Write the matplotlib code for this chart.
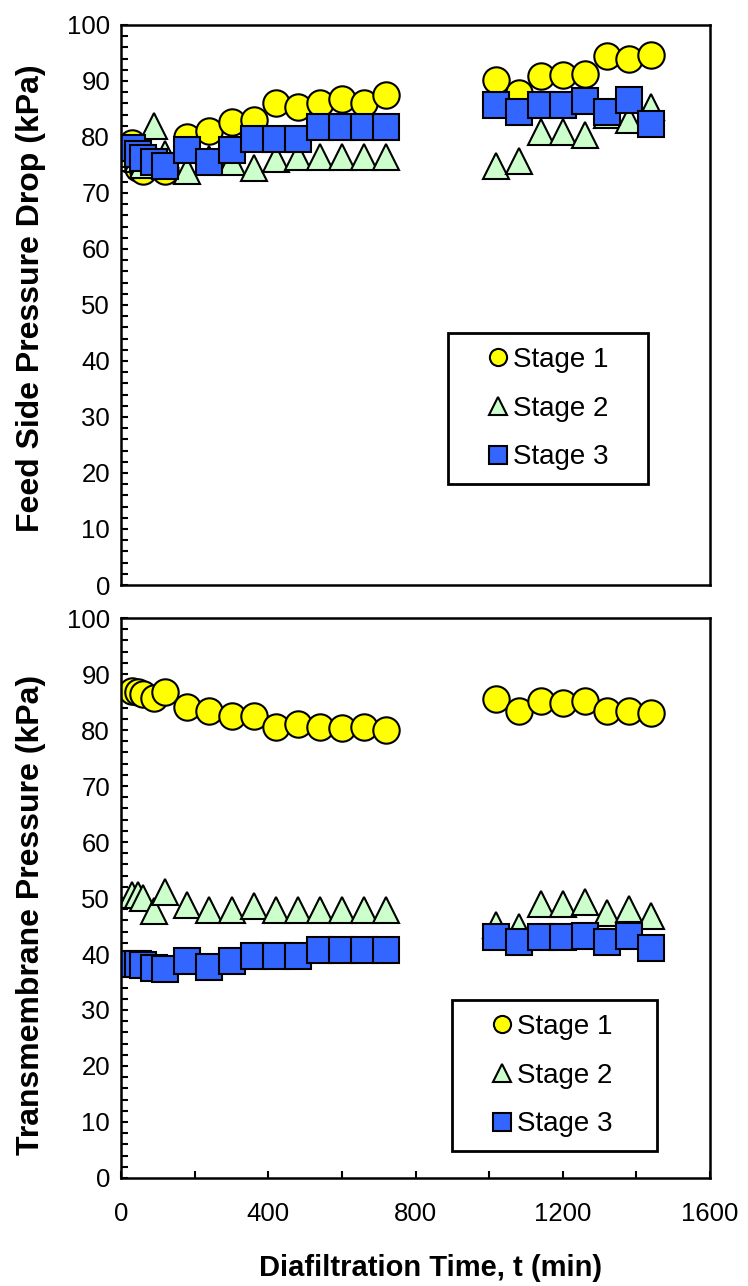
import matplotlib
matplotlib.use('Agg')
import matplotlib.pyplot as plt
from matplotlib.ticker import MultipleLocator

plt.rcParams['font.family'] = ['Liberation Sans', 'DejaVu Sans']

# diafiltration time (min) - two runs with a break between them
t = [30, 45, 60, 90, 120, 180, 240, 300, 360, 420, 480, 540, 600, 660, 720,
     1020, 1080, 1140, 1200, 1260, 1320, 1380, 1440]

# feed side pressure drop (kPa)
dp_stage1 = [79, 74.5, 74, 75, 74, 80, 81, 82.7, 83, 86, 85.3, 86.1, 86.7, 86, 87.5,
             90.2, 87.9, 90.8, 91.1, 91.2, 94.5, 94, 94.6]
dp_stage2 = [77, 76, 75, 82, 77, 74, 76, 75.6, 74.5, 76, 76.5, 76.5, 76.5, 76.5, 76.5,
             74.9, 75.7, 80.9, 80.9, 80.4, 84, 83, 85.4]
dp_stage3 = [78, 77, 76.2, 75.5, 74.8, 77.7, 75.6, 77.7, 79.7, 79.7, 79.7, 81.8, 81.8, 81.8, 81.8,
             85.7, 84.5, 85.7, 85.7, 86.5, 84.5, 86.6, 82.4]

# transmembrane pressure (kPa)
tmp_stage1 = [87, 86.8, 86.5, 85.7, 86.8, 84.2, 83.4, 82.5, 82.5, 80.6, 81.1, 80.6, 80.3, 80.6, 80.0,
              85.5, 83.4, 85.2, 84.9, 85.1, 83.4, 83.4, 83.1]
tmp_stage2 = [50.5, 50.5, 50, 47.7, 51.1, 48.7, 47.8, 47.8, 48.5, 47.8, 47.8, 47.8, 47.8, 47.8, 47.8,
              45.2, 44.9, 48.9, 48.9, 49.3, 47.3, 48.0, 46.8]
tmp_stage3 = [38.3, 38.2, 38, 37.5, 37.4, 38.8, 37.6, 38.7, 39.6, 39.6, 39.6, 40.8, 40.8, 40.8, 40.8,
              43.0, 42.2, 43.0, 43.0, 43.2, 42.2, 43.2, 41.0]

labels = ['Stage 1', 'Stage 2', 'Stage 3']
markers = ['o', '^', 's']
colors = ['#FFFF00', '#CCFFCC', '#3366FF']

fig = plt.figure(figsize=(7.48, 12.86), dpi=100)
ax1 = fig.add_axes([0.162, 0.5451, 0.787, 0.4355])
ax2 = fig.add_axes([0.162, 0.0840, 0.787, 0.4354])


def draw(ax, series, ylabel, label_y, leg_box):
    for y, lab, m, c in zip(series, labels, markers, colors):
        ax.plot(t, y, linestyle='none', marker=m, ms=19, mfc=c, mec='black',
                mew=1.5, label=lab)
    ax.set_xlim(0, 1600)
    ax.set_ylim(0, 100)
    ax.yaxis.set_major_locator(MultipleLocator(10))
    ax.yaxis.set_minor_locator(MultipleLocator(2))
    ax.xaxis.set_major_locator(MultipleLocator(400))
    ax.xaxis.set_minor_locator(MultipleLocator(200))
    ax.tick_params(which='both', direction='in', length=5, width=1.5,
                   labelsize=18.5, top=False, right=False)
    ax.tick_params(axis='y', pad=8)
    ax.tick_params(axis='x', pad=17)
    for s in ax.spines.values():
        s.set_linewidth(1.8)
    ax.set_ylabel(ylabel, fontsize=23, fontweight='bold')
    ax.yaxis.set_label_coords(-0.128, label_y)
    leg = ax.legend(loc='upper left', bbox_to_anchor=leg_box, mode='expand',
                    borderaxespad=0, fontsize=20, markerscale=0.65,
                    handlelength=2.6, handletextpad=-0.75, labelspacing=0.82,
                    borderpad=0.5, fancybox=False, framealpha=1,
                    edgecolor='black')
    leg.get_frame().set_linewidth(2)


draw(ax1, [dp_stage1, dp_stage2, dp_stage3], 'Feed Side Pressure Drop (kPa)',
     0.513, (0.555, 0.18, 0.34, 0.27))
draw(ax2, [tmp_stage1, tmp_stage2, tmp_stage3], 'Transmembrane Pressure (kPa)',
     0.47, (0.562, 0.05, 0.348, 0.268))

ax1.tick_params(axis='x', which='both', bottom=False, labelbottom=False)
ax2.set_xlabel('Diafiltration Time, t (min)', fontsize=21, fontweight='bold')
ax2.xaxis.set_label_coords(0.525, -0.135)

fig.savefig('out.png', dpi=100)
